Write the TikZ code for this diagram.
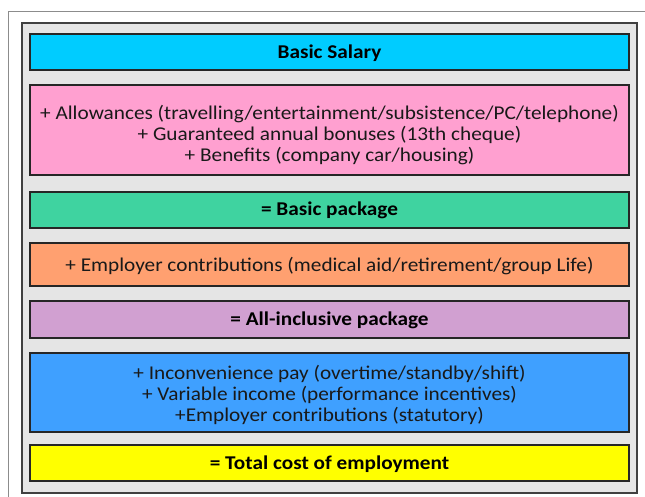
\documentclass[tikz,border=0pt]{standalone}
\usepackage{fontspec}
\setmainfont{Carlito}[FakeStretch=1.09]
\begin{document}
\begin{tikzpicture}[x=1pt,y=-1pt,
  bandbox/.style={draw=black!85,line width=1.2pt,minimum width=599pt,inner sep=0pt},
  bandtext/.style={anchor=base,inner sep=0pt,align=center,
    font=\fontsize{19.5}{21}\selectfont,text=black!90},
  headtext/.style={bandtext,font=\fontsize{19.5}{21}\selectfont\bfseries,text=black}]
\definecolor{cSalary}{HTML}{00CCFF}
\definecolor{cAllow}{HTML}{FFA0D0}
\definecolor{cBasic}{HTML}{3FD3A0}
\definecolor{cEmpl}{HTML}{FFA070}
\definecolor{cAllin}{HTML}{D1A0D1}
\definecolor{cVar}{HTML}{3FA0FF}
\definecolor{cTotal}{HTML}{FFFF00}
\useasboundingbox (0,0) rectangle (645,497);
\fill[white] (0,0) rectangle (645,497);
% page edge
\draw[black!45,line width=0.8pt] (8,497) -- (8,11) -- (645,11);
% panel
\draw[fill=black!10,draw=black!75,line width=1.5pt] (22,23) rectangle (637,493);
% stacked bands
\node[bandbox,fill=cSalary,minimum height=36pt] (salary) at (329.5,52) {};
\node[bandbox,fill=cAllow,minimum height=90pt]  (allow)  at (329.5,130) {};
\node[bandbox,fill=cBasic,minimum height=36pt]  (basic)  at (329.5,210) {};
\node[bandbox,fill=cEmpl,minimum height=43pt]   (empl)   at (329.5,264.5) {};
\node[bandbox,fill=cAllin,minimum height=37pt]  (allin)  at (329.5,319.5) {};
\node[bandbox,fill=cVar,minimum height=79pt]    (var)    at (329.5,392.5) {};
\node[bandbox,fill=cTotal,minimum height=36pt]  (total)  at (329.5,463) {};
% band texts, placed on their last baselines
\node[headtext] (salaryT) at (329.5,58.3) {Basic Salary};
\node[bandtext] (allowT) at (329.5,161.5)
  {+ Allowances (travelling/entertainment/subsistence/PC/telephone)\\
   + Guaranteed annual bonuses (13th cheque)\\
   + Benefits (company car/housing)};
\node[headtext] (basicT) at (329.5,215.9) {= Basic package};
\node[bandtext] (emplT) at (329.5,271)
  {+ Employer contributions (medical aid/retirement/group Life)};
\node[headtext] (allinT) at (329.5,325.8) {= All-inclusive package};
\node[bandtext] (varT) at (329.5,421)
  {+ Inconvenience pay (overtime/standby/shift)\\
   + Variable income (performance incentives)\\
   +Employer contributions (statutory)};
\node[headtext] (totalT) at (329.5,469.2) {= Total cost of employment};
\end{tikzpicture}
\end{document}
